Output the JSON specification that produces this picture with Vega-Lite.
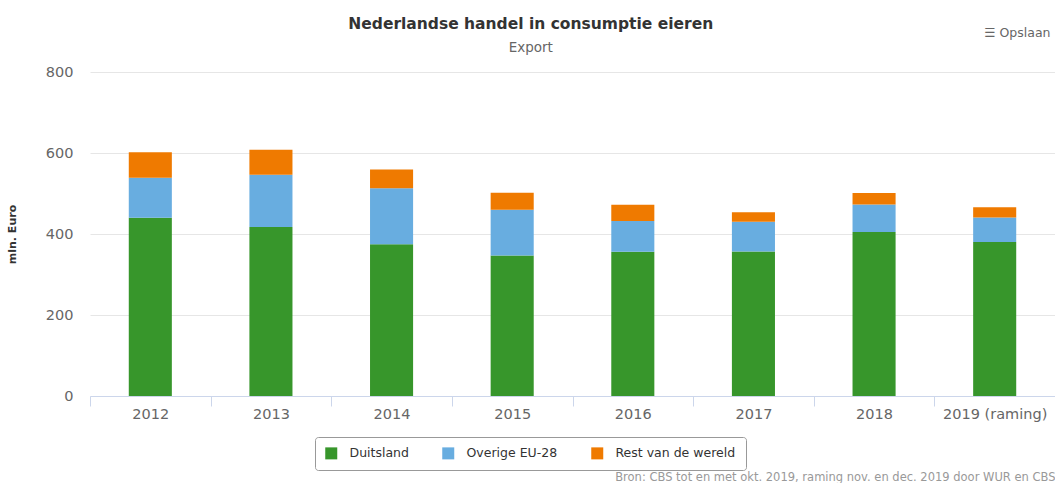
{
  "$schema": "https://vega.github.io/schema/vega-lite/v6.json",
  "autosize": "none",
  "width": 965,
  "height": 324,
  "padding": {"left": 90, "top": 72, "right": 0, "bottom": 87},
  "background": "white",
  "config": {
    "font": "DejaVu Sans",
    "view": {"stroke": null}
  },
  "title": {
    "text": "Nederlandse handel in consumptie eieren",
    "subtitle": "Export",
    "anchor": "middle",
    "frame": "bounds",
    "fontSize": 15.5,
    "fontWeight": "bold",
    "color": "#333333",
    "subtitleFontSize": 13.5,
    "subtitleColor": "#666666",
    "subtitlePadding": 8,
    "offset": -28
  },
  "data": {
    "values": [
      {"Jaar": "2012", "Bestemming": "Duitsland", "Waarde": 440},
      {"Jaar": "2012", "Bestemming": "Overige EU-28", "Waarde": 99},
      {"Jaar": "2012", "Bestemming": "Rest van de wereld", "Waarde": 63},
      {"Jaar": "2013", "Bestemming": "Duitsland", "Waarde": 417},
      {"Jaar": "2013", "Bestemming": "Overige EU-28", "Waarde": 129},
      {"Jaar": "2013", "Bestemming": "Rest van de wereld", "Waarde": 62},
      {"Jaar": "2014", "Bestemming": "Duitsland", "Waarde": 375},
      {"Jaar": "2014", "Bestemming": "Overige EU-28", "Waarde": 138},
      {"Jaar": "2014", "Bestemming": "Rest van de wereld", "Waarde": 46},
      {"Jaar": "2015", "Bestemming": "Duitsland", "Waarde": 347},
      {"Jaar": "2015", "Bestemming": "Overige EU-28", "Waarde": 113},
      {"Jaar": "2015", "Bestemming": "Rest van de wereld", "Waarde": 42},
      {"Jaar": "2016", "Bestemming": "Duitsland", "Waarde": 356},
      {"Jaar": "2016", "Bestemming": "Overige EU-28", "Waarde": 76},
      {"Jaar": "2016", "Bestemming": "Rest van de wereld", "Waarde": 40},
      {"Jaar": "2017", "Bestemming": "Duitsland", "Waarde": 357},
      {"Jaar": "2017", "Bestemming": "Overige EU-28", "Waarde": 73},
      {"Jaar": "2017", "Bestemming": "Rest van de wereld", "Waarde": 24},
      {"Jaar": "2018", "Bestemming": "Duitsland", "Waarde": 405},
      {"Jaar": "2018", "Bestemming": "Overige EU-28", "Waarde": 68},
      {"Jaar": "2018", "Bestemming": "Rest van de wereld", "Waarde": 28},
      {"Jaar": "2019 (raming)", "Bestemming": "Duitsland", "Waarde": 380},
      {"Jaar": "2019 (raming)", "Bestemming": "Overige EU-28", "Waarde": 61},
      {"Jaar": "2019 (raming)", "Bestemming": "Rest van de wereld", "Waarde": 25}
    ]
  },
  "layer": [
    {
      "mark": {"type": "bar", "width": {"band": 0.357}},
      "encoding": {
        "x": {
          "field": "Jaar",
          "type": "nominal",
          "sort": null,
          "scale": {"paddingInner": 0, "paddingOuter": 0},
          "axis": {
            "title": "Bron: CBS tot en met okt. 2019, raming nov. en dec. 2019 door WUR en CBS",
            "titleFontSize": 11.5,
            "titleFontWeight": "normal",
            "titleColor": "#999999",
            "titleAnchor": "end",
            "titleAlign": "right",
            "titleBaseline": "alphabetic",
            "titleX": 965,
            "titleY": 84,
            "labelAngle": 0,
            "labelFontSize": 14.5,
            "labelColor": "#666666",
            "labelPadding": 1,
            "tickBand": "extent",
            "tickSize": 10,
            "tickColor": "#ccd6eb",
            "domainColor": "#ccd6eb",
            "grid": false
          }
        },
        "y": {
          "field": "Waarde",
          "type": "quantitative",
          "aggregate": "sum",
          "stack": "zero",
          "scale": {"domain": [0, 800]},
          "axis": {
            "title": "mln. Euro",
            "titleFontSize": 11,
            "titleFontWeight": "bold",
            "titleColor": "#333333",
            "titleX": -73,
            "values": [0, 200, 400, 600, 800],
            "labelFontSize": 14.5,
            "labelColor": "#666666",
            "labelPadding": 17,
            "ticks": false,
            "domain": false,
            "gridColor": "#e6e6e6",
            "gridWidth": 1
          }
        },
        "order": {"field": "Bestemming", "type": "nominal", "sort": "ascending"},
        "color": {
          "field": "Bestemming",
          "type": "nominal",
          "scale": {
            "domain": ["Duitsland", "Overige EU-28", "Rest van de wereld"],
            "range": ["#37962b", "#68ade0", "#ef7a00"]
          },
          "legend": {
            "title": null,
            "orient": "none",
            "legendX": 225,
            "legendY": 365,
            "direction": "horizontal",
            "strokeColor": "#999999",
            "fillColor": "white",
            "cornerRadius": 3,
            "padding": 10,
            "symbolType": "square",
            "symbolSize": 144,
            "symbolStrokeWidth": 0,
            "labelFontSize": 12.5,
            "labelColor": "#333333",
            "labelOffset": 12,
            "columnPadding": 33
          }
        }
      }
    },
    {
      "mark": {"type": "tick", "opacity": 0},
      "encoding": {
        "x": {
          "field": "Jaar",
          "type": "nominal",
          "sort": null,
          "axis": {
            "orient": "top",
            "title": "☰  Opslaan",
            "titleFontSize": 12.5,
            "titleFontWeight": "normal",
            "titleColor": "#666666",
            "titleAnchor": "end",
            "titleAlign": "right",
            "titleBaseline": "middle",
            "titleX": 960,
            "titleY": -40,
            "labels": false,
            "ticks": false,
            "domain": false,
            "grid": false
          }
        },
        "y": {"datum": 0, "type": "quantitative"}
      }
    }
  ],
  "resolve": {"axis": {"x": "independent"}}
}
